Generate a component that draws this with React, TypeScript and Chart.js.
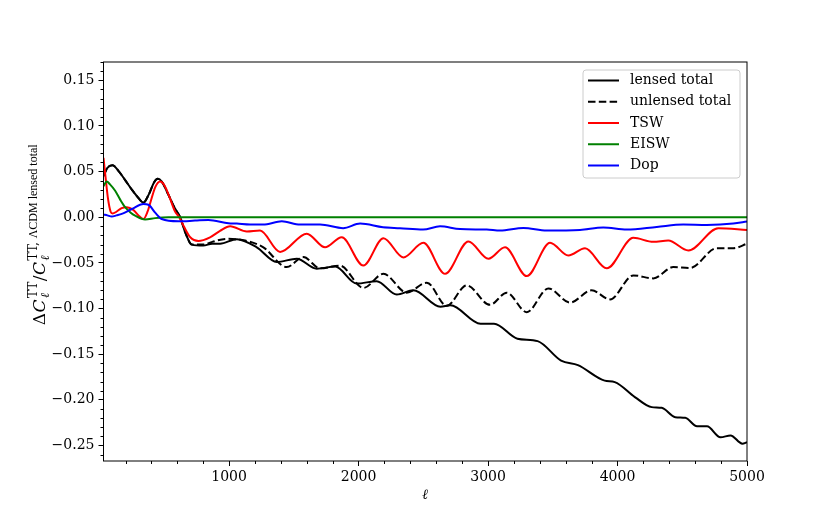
import { useEffect, useRef } from "react";
import { Chart, registerables } from "chart.js";

Chart.register(...registerables);

// multipole ranges and axis ticks
const xTicks = [1000, 2000, 3000, 4000, 5000];
const yTicks = [-0.25, -0.2, -0.15, -0.1, -0.05, 0, 0.05, 0.1, 0.15];

// lensed total (solid black)
const lensedEll = [30, 60, 99, 150, 200, 250, 300, 338, 380, 420, 449, 480, 530, 580, 622, 660, 712, 800, 870, 930, 1060, 1214, 1368, 1523, 1677, 1819, 1986, 2140, 2295, 2423, 2632, 2709, 2942, 3046, 3227, 3383, 3564, 3694, 3901, 3979, 4134, 4264, 4341, 4446, 4523, 4614, 4691, 4795, 4873, 4964, 5000];
const lensedVals = [0.045, 0.054, 0.057, 0.05, 0.04, 0.03, 0.021, 0.016, 0.025, 0.038, 0.042, 0.039, 0.025, 0.01, 0.0, -0.016, -0.03, -0.031, -0.029, -0.029, -0.024, -0.033, -0.049, -0.0455, -0.0564, -0.054, -0.0727, -0.07, -0.0847, -0.08, -0.098, -0.0964, -0.1166, -0.1166, -0.133, -0.1357, -0.157, -0.162, -0.179, -0.1806, -0.197, -0.208, -0.2087, -0.219, -0.2197, -0.229, -0.229, -0.241, -0.239, -0.248, -0.2465];

// unlensed total (dashed black)
const unlensedEll = [30, 60, 99, 150, 200, 250, 300, 338, 380, 420, 449, 480, 530, 580, 622, 660, 712, 800, 870, 982, 1124, 1265, 1445, 1574, 1703, 1857, 2037, 2192, 2372, 2527, 2681, 2835, 3015, 3144, 3299, 3466, 3633, 3800, 3942, 4122, 4276, 4431, 4560, 4766, 4894, 5000];
const unlensedVals = [0.045, 0.054, 0.057, 0.05, 0.04, 0.03, 0.021, 0.016, 0.025, 0.038, 0.042, 0.039, 0.025, 0.01, 0.0, -0.016, -0.03, -0.03, -0.027, -0.0237, -0.0255, -0.033, -0.0546, -0.0437, -0.056, -0.053, -0.0775, -0.062, -0.0826, -0.0717, -0.097, -0.0746, -0.096, -0.0826, -0.104, -0.078, -0.0935, -0.08, -0.09, -0.0637, -0.067, -0.0546, -0.0557, -0.034, -0.034, -0.029];

// TSW (red)
const tswEll = [30, 45, 65, 85, 100, 130, 170, 210, 260, 300, 338, 370, 400, 430, 467, 500, 540, 580, 615, 650, 700, 763, 853, 930, 1008, 1137, 1239, 1394, 1600, 1741, 1870, 2037, 2192, 2346, 2500, 2668, 2848, 3003, 3131, 3299, 3479, 3620, 3749, 3917, 4122, 4276, 4392, 4547, 4778, 5000];
const tswVals = [0.065, 0.045, 0.02, 0.006, 0.004, 0.006, 0.01, 0.011, 0.008, 0.002, -0.002, 0.006, 0.02, 0.033, 0.039, 0.035, 0.022, 0.007, 0.0, -0.01, -0.022, -0.026, -0.022, -0.015, -0.01, -0.0157, -0.0146, -0.038, -0.018, -0.033, -0.022, -0.053, -0.023, -0.044, -0.028, -0.062, -0.0266, -0.0455, -0.033, -0.0645, -0.028, -0.042, -0.034, -0.056, -0.0226, -0.027, -0.0255, -0.0364, -0.012, -0.0139];

// EISW (green)
const eiswEll = [30, 55, 80, 120, 160, 197, 240, 274, 351, 429, 531, 700, 1000, 2000, 3000, 4000, 5000];
const eiswVals = [0.034, 0.039, 0.036, 0.029, 0.019, 0.011, 0.005, 0.0017, -0.0026, -0.001, 0.0, 0.0, 0.0, 0.0, 0.0, 0.0, 0.0];

// Doppler (blue)
const dopEll = [30, 60, 94, 130, 171, 249, 338, 377, 429, 480, 608, 737, 840, 995, 1060, 1162, 1263, 1407, 1548, 1703, 1881, 2012, 2189, 2320, 2498, 2629, 2784, 2990, 3093, 3273, 3453, 3710, 3890, 4071, 4303, 4508, 4689, 4894, 5000];
const dopVals = [0.003, 0.002, 0.0007, 0.002, 0.0036, 0.009, 0.0145, 0.0137, 0.005, -0.002, -0.0045, -0.0037, -0.003, -0.0066, -0.007, -0.008, -0.008, -0.0045, -0.008, -0.008, -0.012, -0.007, -0.011, -0.012, -0.0135, -0.01, -0.013, -0.0135, -0.0146, -0.0117, -0.0146, -0.0139, -0.0113, -0.0135, -0.0106, -0.008, -0.0084, -0.007, -0.0048];

const FONT = "'DejaVu Serif', serif";
const DASH = [7.5, 3.3];

const pts = (xs: number[], ys: number[]) => xs.map((x, i) => ({ x, y: ys[i] }));

const minus = (v: number) => (v < 0 ? "\u2212" : "") + Math.abs(v).toFixed(2);

const extras = {
    id: "extras",
    afterDraw(chart: any) {
        const { ctx, chartArea } = chart;
        const xs = chart.scales.x;
        const ys = chart.scales.y;
        const { left, right, top, bottom } = chartArea;

        ctx.save();
        ctx.strokeStyle = "#000";
        ctx.lineWidth = 1;

        // minor ticks
        ctx.beginPath();
        for (let l = 200; l < 5000; l += 200) {
            if (l % 1000 === 0) continue;
            const px = Math.round(xs.getPixelForValue(l)) + 0.5;
            ctx.moveTo(px, bottom);
            ctx.lineTo(px, bottom + 3);
        }
        for (let k = -26; k <= 17; k++) {
            if (k % 5 === 0) continue;
            const py = Math.round(ys.getPixelForValue(k / 100)) + 0.5;
            ctx.moveTo(left, py);
            ctx.lineTo(left - 3, py);
        }
        ctx.stroke();

        // frame
        ctx.strokeRect(left, top, right - left, bottom - top);

        // legend
        const lx = right - 164, ly = top + 8, lw = 157, lh = 108;
        ctx.beginPath();
        ctx.roundRect(lx, ly, lw, lh, 3);
        ctx.fillStyle = "rgba(255,255,255,0.8)";
        ctx.fill();
        ctx.strokeStyle = "#cccccc";
        ctx.stroke();
        ctx.font = `14px ${FONT}`;
        ctx.textBaseline = "middle";
        chart.data.datasets.forEach((ds: any, i: number) => {
            const ry = ly + 10.5 + i * 21.25;
            ctx.beginPath();
            ctx.strokeStyle = ds.borderColor;
            ctx.lineWidth = 2;
            ctx.setLineDash(ds.borderDash || []);
            ctx.moveTo(lx + 5, ry);
            ctx.lineTo(lx + 36, ry);
            ctx.stroke();
            ctx.setLineDash([]);
            ctx.fillStyle = "#000";
            ctx.fillText(ds.label, lx + 47, ry);
        });

        // x title
        ctx.fillStyle = "#000";
        ctx.textAlign = "center";
        ctx.font = `italic 14px ${FONT}`;
        ctx.fillText("\u2113", (left + right) / 2, 495);

        // y title (math text, rotated)
        const big = `17px ${FONT}`;
        const bigI = `italic 17px ${FONT}`;
        const small = `12px ${FONT}`;
        const smallI = `italic 12px ${FONT}`;
        const parts: any[] = [
            { t: "\u0394", f: big, dy: 0 },
            { t: "C", f: bigI, dy: 0 },
            { t: "\u2113", f: smallI, dy: 3.5, sup: "TT", supF: small, gap: 1.5 },
            { t: "/", f: big, dy: 0 },
            { t: "C", f: bigI, dy: 0 },
            { t: "\u2113", f: smallI, dy: 3.5, sup: "TT, ", supF: small, sup2: "\u039BCDM lensed total", sup2F: "12px 'Liberation Serif', serif", gap: 0 },
        ];
        let total = 0;
        for (const p of parts) {
            ctx.font = p.f;
            let w = ctx.measureText(p.t).width;
            if (p.sup) {
                ctx.font = p.supF;
                let sw = ctx.measureText(p.sup).width;
                if (p.sup2) {
                    ctx.font = p.sup2F;
                    sw += ctx.measureText(p.sup2).width;
                }
                w = Math.max(w, sw);
            }
            p.w = w + (p.gap || 0.5);
            total += p.w;
        }
        ctx.translate(40, 235);
        ctx.rotate(-Math.PI / 2);
        ctx.textAlign = "left";
        ctx.textBaseline = "alphabetic";
        let cx = -total / 2;
        for (const p of parts) {
            ctx.font = p.f;
            ctx.fillText(p.t, cx + (p.sup ? 1 : 0), 5 + p.dy);
            if (p.sup) {
                ctx.font = p.supF;
                ctx.fillText(p.sup, cx + 1, -3);
                if (p.sup2) {
                    const sw = ctx.measureText(p.sup).width;
                    ctx.font = p.sup2F;
                    ctx.fillText(p.sup2, cx + 1 + sw, -3);
                }
            }
            cx += p.w;
        }
        ctx.restore();
    },
};

export default function App() {
    const canvasRef = useRef<HTMLCanvasElement | null>(null);

    useEffect(() => {
        if (!canvasRef.current) return;
        const line = (label: string, data: any[], color: string, order: number, dash?: number[]) => ({
            label,
            data,
            borderColor: color,
            backgroundColor: color,
            borderWidth: 2,
            borderDash: dash,
            pointRadius: 0,
            cubicInterpolationMode: "monotone" as const,
            fill: false,
            order,
        });
        const chart = new Chart(canvasRef.current, {
            type: "line",
            data: {
                datasets: [
                    line("lensed total", pts(lensedEll, lensedVals), "#000000", 5),
                    line("unlensed total", pts(unlensedEll, unlensedVals), "#000000", 4, DASH),
                    line("TSW", pts(tswEll, tswVals), "#ff0000", 3),
                    line("EISW", pts(eiswEll, eiswVals), "#008000", 2),
                    line("Dop", pts(dopEll, dopVals), "#0000ff", 1),
                ],
            },
            options: {
                responsive: false,
                animation: false,
                layout: { padding: { left: 0, right: 83, top: 62, bottom: 0 } },
                plugins: { legend: { display: false }, tooltip: { enabled: false } },
                scales: {
                    x: {
                        type: "linear",
                        min: 30,
                        max: 5000,
                        afterFit: (s: any) => { s.height = 58; },
                        afterBuildTicks: (s: any) => { s.ticks = xTicks.map((v) => ({ value: v })); },
                        grid: { drawOnChartArea: false, tickLength: 5, color: "#000", tickWidth: 1 },
                        border: { display: false },
                        ticks: { color: "#000", font: { family: FONT, size: 14 }, padding: 3, maxRotation: 0, callback: (v: any) => String(v) },
                    },
                    y: {
                        type: "linear",
                        min: -0.267,
                        max: 0.17,
                        afterFit: (s: any) => { s.width = 103.5; },
                        afterBuildTicks: (s: any) => { s.ticks = yTicks.map((v) => ({ value: v })); },
                        grid: { drawOnChartArea: false, tickLength: 5, color: "#000", tickWidth: 1 },
                        border: { display: false },
                        ticks: { color: "#000", font: { family: FONT, size: 14 }, padding: 4, callback: (v: any) => minus(Number(v)) },
                    },
                },
            },
            plugins: [extras],
        });
        return () => chart.destroy();
    }, []);

    return (
        <div style={{ position: "absolute", left: 0, top: 0, width: 830, height: 519, background: "#fff" }}>
            <canvas ref={canvasRef} width={830} height={519} />
        </div>
    );
}
